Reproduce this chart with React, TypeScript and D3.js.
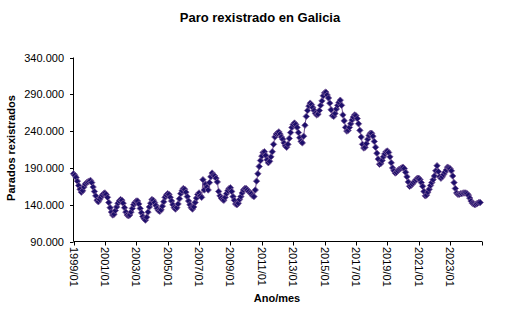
import React from "react";
import * as d3 from "d3";

const chartTitle = "Paro rexistrado en Galicia";
const yAxisTitle = "Parados rexistrados";
const xAxisTitle = "Ano/mes";

const yTickValues = [90, 140, 190, 240, 290, 340];
const yTickLabels = ["90.000", "140.000", "190.000", "240.000", "290.000", "340.000"];

const xTickIndex = [0, 24, 48, 72, 96, 120, 144, 168, 192, 216, 240, 264, 288, 312];
const xTickLabels = [
  "1999/01", "2001/01", "2003/01", "2005/01", "2007/01", "2009/01", "2011/01",
  "2013/01", "2015/01", "2017/01", "2019/01", "2021/01", "2023/01",
];

// Registered unemployed (thousands), monthly from 1999/01
const paradosMiles = [
  182, 180, 177, 172, 166, 161, 157, 159, 164, 168, 170, 171, // 1999
  172, 173, 170, 164, 158, 152, 146, 144, 147, 150, 153, 155, // 2000
  156, 154, 150, 143, 136, 130, 126, 127, 132, 137, 142, 145, // 2001
  147, 146, 142, 136, 130, 126, 125, 126, 130, 135, 140, 143, // 2002
  145, 145, 141, 135, 129, 124, 121, 119, 123, 130, 137, 142, // 2003
  147, 146, 143, 139, 135, 132, 131, 133, 138, 144, 150, 153, // 2004
  155, 154, 150, 145, 140, 136, 134, 136, 141, 148, 155, 159, // 2005
  162, 161, 157, 151, 145, 140, 136, 134, 137, 143, 149, 154, // 2006
  156, 152, 150, 174, 160, 168, 164, 160, 170, 178, 183, 180, // 2007
  179, 176, 171, 158, 152, 149, 147, 146, 150, 155, 159, 162, // 2008
  163, 158, 151, 146, 141, 140, 142, 147, 151, 156, 160, 162, // 2009
  162, 160, 158, 156, 155, 152, 151, 160, 172, 182, 192, 200, // 2010
  206, 211, 212, 207, 201, 197, 199, 205, 212, 222, 232, 236, // 2011
  237, 239, 236, 232, 229, 224, 220, 218, 222, 230, 238, 245, // 2012
  249, 251, 249, 245, 238, 231, 226, 224, 233, 248, 260, 268, // 2013
  274, 278, 276, 272, 268, 264, 262, 263, 268, 275, 281, 288, // 2014
  292, 293, 289, 285, 278, 269, 261, 260, 264, 270, 275, 279, // 2015
  282, 275, 262, 254, 245, 240, 241, 245, 250, 255, 259, 262, // 2016
  261, 257, 250, 241, 232, 222, 217, 218, 223, 229, 234, 237, // 2017
  237, 233, 226, 218, 210, 202, 195, 196, 200, 205, 209, 212, // 2018
  213, 211, 205, 197, 190, 186, 183, 184, 186, 188, 189, 190, // 2019
  191, 189, 184, 178, 171, 165, 166, 168, 170, 172, 174, 176, // 2020
  176, 174, 170, 165, 158, 152, 153, 157, 161, 166, 170, 174, // 2021
  179, 186, 193, 185, 178, 176, 178, 181, 184, 187, 191, 190, // 2022
  189, 186, 179, 170, 162, 156, 154, 154, 155, 155, 156, 156, // 2023
  156, 155, 153, 149, 145, 142, 141, 140, 141, 142, 143, 143, // 2024
];

const FONT = "'Liberation Sans', Arial, sans-serif";

export default function App() {
  const W = 511;
  const H = 327;
  const x = d3.scaleLinear().domain([0, 312]).range([73.5, 481.5]);
  const y = d3.scaleLinear().domain([90, 340]).range([241.5, 57.5]);
  const line = d3
    .line<number>()
    .x((_, i) => x(i))
    .y((d) => y(d));
  const diamond = (cx: number, cy: number, r: number) =>
    `M${cx},${cy - r}L${cx + r},${cy}L${cx},${cy + r}L${cx - r},${cy}Z`;

  return (
    <>
      <style>{"body{margin:0;}"}</style>
      <svg width={W} height={H} style={{ display: "block", background: "#fff" }} fontFamily={FONT}>
        <text x={260} y={22} textAnchor="middle" fontSize={13} fontWeight="bold" fill="#000">
          {chartTitle}
        </text>

        {/* y axis */}
        <line x1={73.5} x2={73.5} y1={y(340)} y2={y(90)} stroke="#000" strokeWidth={1} />
        {yTickValues.map((v, i) => (
          <g key={v}>
            <line x1={70} x2={73.5} y1={Math.round(y(v)) + 0.5} y2={Math.round(y(v)) + 0.5} stroke="#000" />
            <text x={64} y={y(v) + 4} textAnchor="end" fontSize={11} fill="#000">
              {yTickLabels[i]}
            </text>
          </g>
        ))}
        <text
          transform={`translate(15,148) rotate(-90)`}
          textAnchor="middle"
          fontSize={11}
          fontWeight="bold"
          fill="#000"
        >
          {yAxisTitle}
        </text>

        {/* x axis */}
        <line x1={73.5} x2={482} y1={241.5} y2={241.5} stroke="#000" strokeWidth={1} />
        {xTickIndex.map((t) => (
          <line key={t} x1={Math.round(x(t)) + 0.5} x2={Math.round(x(t)) + 0.5} y1={241.5} y2={245.5} stroke="#000" />
        ))}
        {xTickLabels.map((lab, i) => (
          <text
            key={lab}
            transform={`translate(${x(xTickIndex[i]) - 4},${247}) rotate(90)`}
            textAnchor="start"
            fontSize={11}
            fill="#000"
          >
            {lab}
          </text>
        ))}
        <text x={277} y={302} textAnchor="middle" fontSize={11} fontWeight="bold" fill="#000">
          {xAxisTitle}
        </text>

        {/* series */}
        <path d={line(paradosMiles) || ""} fill="none" stroke="#6b4a8e" strokeWidth={1} />
        {paradosMiles.map((v, i) => (
          <path key={i} d={diamond(x(i), y(v), 3.2)} fill="#1c0f6b" stroke="#7a5a98" strokeWidth={0.8} />
        ))}
      </svg>
    </>
  );
}
